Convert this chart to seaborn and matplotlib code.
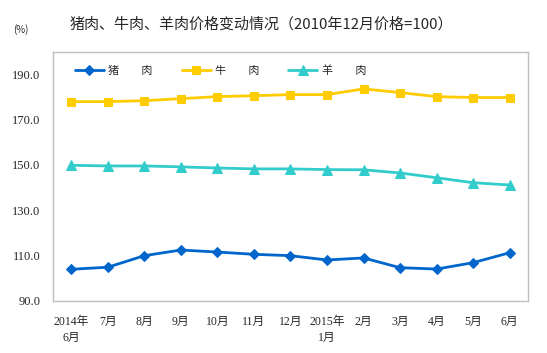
import pandas as pd
import matplotlib.pyplot as plt
import seaborn as sns

# 2014年6月 - 2015年6月, 2010年12月价格=100
months = ['2014年\n6月', '7月', '8月', '9月', '10月', '11月', '12月',
          '2015年\n1月', '2月', '3月', '4月', '5月', '6月']
pork = [103.9, 104.8, 109.9, 112.4, 111.5, 110.5, 109.9, 108.0, 108.9, 104.6, 104.0, 106.8, 111.2]
beef = [177.9, 177.9, 178.3, 179.2, 180.1, 180.5, 181.0, 181.0, 183.5, 181.9, 180.1, 179.7, 179.7]
mutton = [149.8, 149.5, 149.5, 149.1, 148.6, 148.2, 148.2, 147.9, 147.8, 146.4, 144.3, 142.1, 141.1]
series_names = ['猪\u3000\u3000肉', '牛\u3000\u3000肉', '羊\u3000\u3000肉']

sns.set_style('white')
plt.rcParams['font.family'] = ['Liberation Serif', 'Noto Sans CJK SC', 'DejaVu Sans']

df = pd.DataFrame({'x': range(len(months)), series_names[0]: pork,
                   series_names[1]: beef, series_names[2]: mutton})

fig = plt.figure(figsize=(5.47, 3.53), dpi=100)
ax = fig.add_axes([0.097, 0.148, 0.868, 0.706])

styles = [
    (series_names[0], '#0066CC', 'D', 5),
    (series_names[1], '#FFCC00', 's', 6),
    (series_names[2], '#33CCCC', '^', 6.5),
]
for name, color, marker, ms in styles:
    sns.lineplot(data=df, x='x', y=name, ax=ax, color=color, marker=marker,
                 markersize=ms, markeredgecolor=color, linewidth=2, label=name)

ax.set_xlim(-0.5, len(months) - 0.5)
ax.set_ylim(90, 200)
ax.set_yticks([90, 110, 130, 150, 170, 190])
ax.set_yticklabels([f'{v:.1f}' for v in [90, 110, 130, 150, 170, 190]], fontsize=9)
ax.set_xticks(range(len(months)))
ax.set_xticklabels(months, fontsize=8.5, linespacing=1.4, va='top')
ax.set_xlabel('')
ax.set_ylabel('')
ax.tick_params(axis='y', length=3, color='#BFBFBF', pad=6)
ax.tick_params(axis='x', length=0, pad=11)
for sp in ax.spines.values():
    sp.set_color('#BFBFBF')
    sp.set_linewidth(1)

leg = ax.legend(loc='center left', bbox_to_anchor=(0.025, 0.922), ncol=3, frameon=False,
                handlelength=2.6, columnspacing=2.6, handletextpad=0.4,
                prop={'family': ['Noto Sans CJK SC'], 'size': 8})

fig.text(0.477, 0.932, '猪肉、牛肉、羊肉价格变动情况（2010年12月价格=100）',
         ha='center', va='center', fontsize=10.8, fontweight='medium',
         family=['Noto Sans CJK SC'])
fig.text(0.038, 0.917, '(%)', ha='center', va='center', fontsize=7,
         family=['Noto Sans CJK SC'])

fig.savefig('out.png', dpi=100)
